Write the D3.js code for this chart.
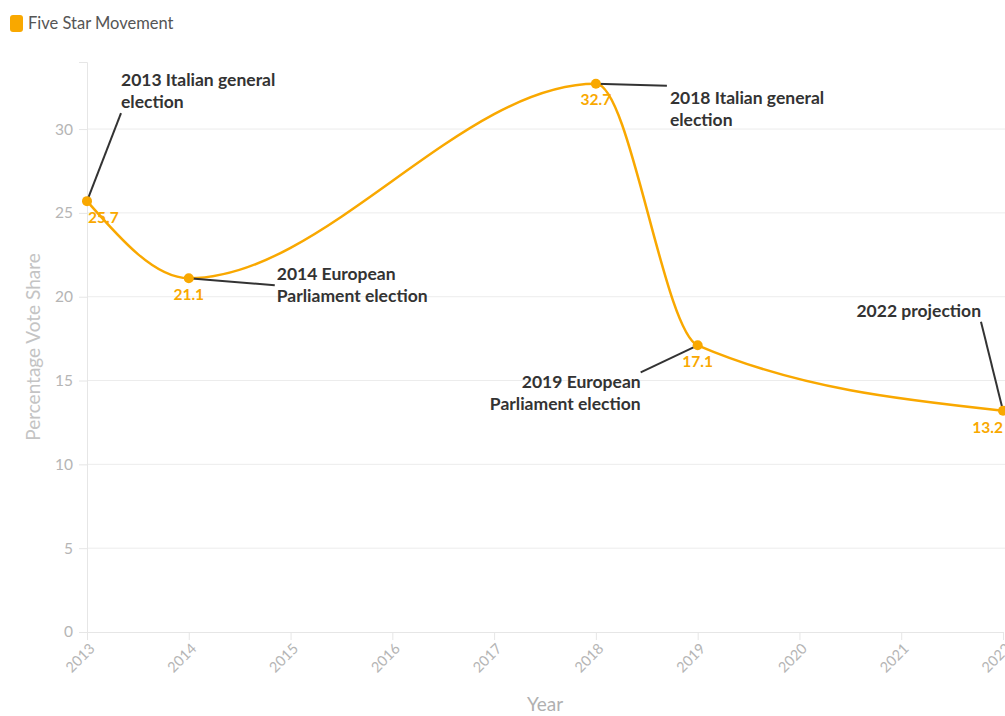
<!DOCTYPE html>
<html>
<head>
<meta charset="utf-8">
<script src="https://cdn.jsdelivr.net/npm/d3@7"></script>
<style>
  body { margin: 0; background: #fff; font-family: Lato, "Open Sans", sans-serif; }
  svg { display: block; }
</style>
</head>
<body>
<div id="chart"></div>
<script>
// data
const years = [2013, 2014, 2018, 2019, 2022];
const voteShare = [25.7, 21.1, 32.7, 17.1, 13.2];
const eventNames = [
  ["2013 Italian general", "election"],
  ["2014 European", "Parliament election"],
  ["2018 Italian general", "election"],
  ["2019 European", "Parliament election"],
  ["2022 projection"]
];
const yTicks = [0, 5, 10, 15, 20, 25, 30];
const xTicks = d3.range(2013, 2023);

// annotation layout (label offsets from the point, pixel units)
const noteLayout = [
  { lx: 34, ly: -88, anchor: "start", tx: 34, ty: -115 },
  { lx: 86, ly: 7, anchor: "start", tx: 88, ty: 2 },
  { lx: 71, ly: 2, anchor: "start", tx: 74, ty: 20 },
  { lx: -57, ly: 27, anchor: "end", tx: -57, ty: 43 },
  { lx: -22, ly: -89, anchor: "end", tx: -22, ty: -94 }
];
const valueLayout = [
  { dx: 1, dy: 22, anchor: "start" },
  { dx: 0, dy: 22, anchor: "middle" },
  { dx: 0, dy: 21, anchor: "middle" },
  { dx: 0, dy: 22, anchor: "middle" },
  { dx: 0, dy: 22, anchor: "end" }
];

const width = 1005, height = 716;
const margin = { top: 62, right: 2, bottom: 84, left: 87 };
const orange = "#f9a800";

const svg = d3.select("#chart").append("svg")
  .attr("width", width)
  .attr("height", height);

const x = d3.scaleLinear().domain([2013, 2022]).range([margin.left, width - margin.right]);
const y = d3.scaleLinear().domain([0, 34]).range([height - margin.bottom, margin.top]);

// legend
svg.append("rect")
  .attr("x", 10).attr("y", 15).attr("width", 13).attr("height", 17)
  .attr("rx", 3).attr("fill", orange);
svg.append("text")
  .attr("x", 28).attr("y", 29)
  .attr("fill", "#555").style("font-size", "16.5px")
  .text("Five Star Movement");

// grid
svg.append("g").selectAll("line")
  .data(yTicks.filter(d => d > 0))
  .join("line")
  .attr("x1", margin.left).attr("x2", width)
  .attr("y1", d => y(d)).attr("y2", d => y(d))
  .attr("stroke", "#ececec");

// y axis
const yAxis = svg.append("g")
  .attr("transform", `translate(${margin.left},0)`)
  .call(d3.axisLeft(y).tickValues(yTicks).tickSize(8).tickPadding(6));
yAxis.select(".domain").attr("stroke", "#e6e6e6");
yAxis.selectAll(".tick line").attr("stroke", "#e6e6e6");
yAxis.selectAll(".tick text")
  .attr("fill", "#b5b5b5").style("font-size", "15.5px").style("font-family", "Lato, sans-serif");

// x axis (labels drawn separately so they can be rotated)
const xAxis = svg.append("g")
  .attr("transform", `translate(0,${y(0)})`)
  .call(d3.axisBottom(x).tickValues(xTicks).tickFormat("").tickSize(8));
xAxis.select(".domain").attr("stroke", "#e6e6e6");
xAxis.selectAll(".tick line").attr("stroke", "#e6e6e6");

svg.append("g").selectAll("text")
  .data(xTicks)
  .join("text")
  .attr("transform", d => `translate(${x(d) + 5},${y(0) + 14}) rotate(-45)`)
  .attr("text-anchor", "end")
  .attr("dy", "0.35em")
  .attr("fill", "#b5b5b5")
  .style("font-size", "14.5px")
  .text(d => d);

// axis titles
svg.append("text")
  .attr("transform", `translate(40,${(y(0) + margin.top) / 2}) rotate(-90)`)
  .attr("text-anchor", "middle")
  .attr("fill", "#c4c4c4").style("font-size", "19px")
  .text("Percentage Vote Share");
svg.append("text")
  .attr("x", 545).attr("y", 711)
  .attr("text-anchor", "middle")
  .attr("fill", "#b0b0b0").style("font-size", "19px")
  .text("Year");

const points = years.map((yr, i) => ({ year: yr, value: voteShare[i], names: eventNames[i], note: noteLayout[i], lab: valueLayout[i] }));

// line
const line = d3.line()
  .x(d => x(d.year))
  .y(d => y(d.value))
  .curve(d3.curveMonotoneX);
svg.append("path")
  .datum(points)
  .attr("d", line)
  .attr("fill", "none")
  .attr("stroke", orange)
  .attr("stroke-width", 2.5);

// annotation connectors
svg.append("g").selectAll("line")
  .data(points)
  .join("line")
  .attr("x1", d => x(d.year)).attr("y1", d => y(d.value))
  .attr("x2", d => x(d.year) + d.note.lx).attr("y2", d => y(d.value) + d.note.ly)
  .attr("stroke", "#333").attr("stroke-width", 2);

// points
svg.append("g").selectAll("circle")
  .data(points)
  .join("circle")
  .attr("cx", d => x(d.year)).attr("cy", d => y(d.value))
  .attr("r", 5).attr("fill", orange);

// value labels
svg.append("g").selectAll("text")
  .data(points)
  .join("text")
  .attr("x", d => x(d.year) + d.lab.dx)
  .attr("y", d => y(d.value) + d.lab.dy)
  .attr("text-anchor", d => d.lab.anchor)
  .attr("fill", orange)
  .style("font-size", "15.5px").style("font-weight", "bold")
  .text(d => d3.format(".1f")(d.value));

// annotation labels
const notes = svg.append("g").selectAll("text")
  .data(points)
  .join("text")
  .attr("x", d => x(d.year) + d.note.tx)
  .attr("y", d => y(d.value) + d.note.ty)
  .attr("text-anchor", d => d.note.anchor)
  .attr("fill", "#333")
  .style("font-size", "17.5px").style("font-weight", "bold");
notes.selectAll("tspan")
  .data(d => d.names.map(n => ({ n, x: x(d.year) + d.note.tx })))
  .join("tspan")
  .attr("x", t => t.x)
  .attr("dy", (t, i) => i === 0 ? 0 : 22)
  .text(t => t.n);
</script>
</body>
</html>
